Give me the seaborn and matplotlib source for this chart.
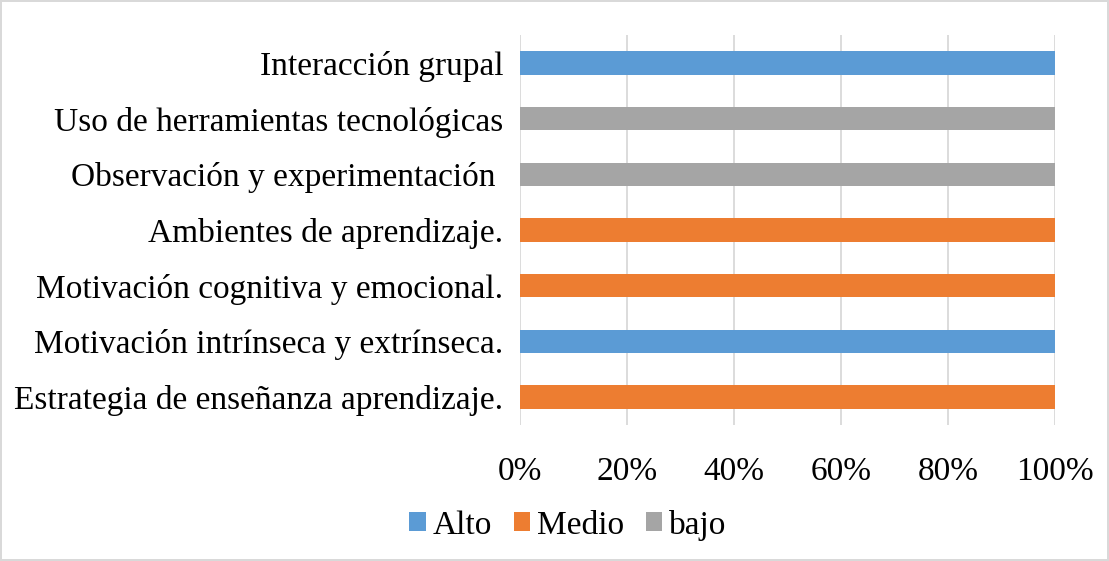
import pandas as pd
import matplotlib.pyplot as plt
import seaborn as sns
from matplotlib.patches import Patch
from matplotlib.ticker import PercentFormatter

# Datos
categorias = ['Interacción grupal',
              'Uso de herramientas tecnológicas',
              'Observación y experimentación ',
              'Ambientes de aprendizaje.',
              'Motivación cognitiva y emocional.',
              'Motivación intrínseca y extrínseca.',
              'Estrategia de enseñanza aprendizaje.']
alto = [100, 0, 0, 0, 0, 100, 0]
medio = [0, 0, 0, 100, 100, 0, 100]
bajo = [0, 100, 100, 0, 0, 0, 0]

niveles = ['Alto', 'Medio', 'bajo']
colores = ['#5B9BD5', '#ED7D31', '#A5A5A5']

df = pd.DataFrame({'Categoria': categorias, 'Alto': alto, 'Medio': medio, 'bajo': bajo})
total = df[niveles].sum(axis=1)
df['pct_Alto'] = df['Alto'] / total * 100
df['pct_Medio'] = (df['Alto'] + df['Medio']) / total * 100
df['pct_bajo'] = (df['Alto'] + df['Medio'] + df['bajo']) / total * 100

sns.set_style('white')
plt.rcParams['font.family'] = ['Liberation Serif', 'DejaVu Serif']
plt.rcParams['text.color'] = 'black'

fig = plt.figure(figsize=(11.09, 5.61), dpi=100)
fig.patch.set_edgecolor('#D9D9D9')
fig.patch.set_linewidth(1.5)
ax = fig.add_axes([0.469, 0.2424, 0.482, 0.6952])

# barras apiladas al 100% (acumulado, de atrás hacia adelante)
for nivel, color in zip(reversed(niveles), reversed(colores)):
    sns.barplot(data=df, x='pct_' + nivel, y='Categoria', orient='h',
                color=color, width=0.42, saturation=1, ax=ax, zorder=3,
                edgecolor='none')

ax.set_xlim(0, 100)
ax.set_ylim(6.5, -0.5)
ax.set_xticks(range(0, 101, 20))
ax.xaxis.set_major_formatter(PercentFormatter(decimals=0))
ax.grid(axis='x', color='#D5D5D5', linewidth=1.2, zorder=0)
ax.set_axisbelow(True)
for s in ax.spines.values():
    s.set_visible(False)
ax.set_xlabel('')
ax.set_ylabel('')
ax.tick_params(axis='y', labelsize=24, pad=12, length=0, labelcolor='black')
ax.tick_params(axis='x', labelsize=24, pad=23, length=0, labelcolor='black')

handles = [Patch(facecolor=c, edgecolor='none') for c in colores]
fig.legend(handles, niveles, loc='center', bbox_to_anchor=(0.512, 0.064), ncol=3,
           frameon=False, fontsize=24, handlelength=0.5, handleheight=0.5,
           handletextpad=0.2, columnspacing=0.65)

fig.savefig('out.png', dpi=100)
